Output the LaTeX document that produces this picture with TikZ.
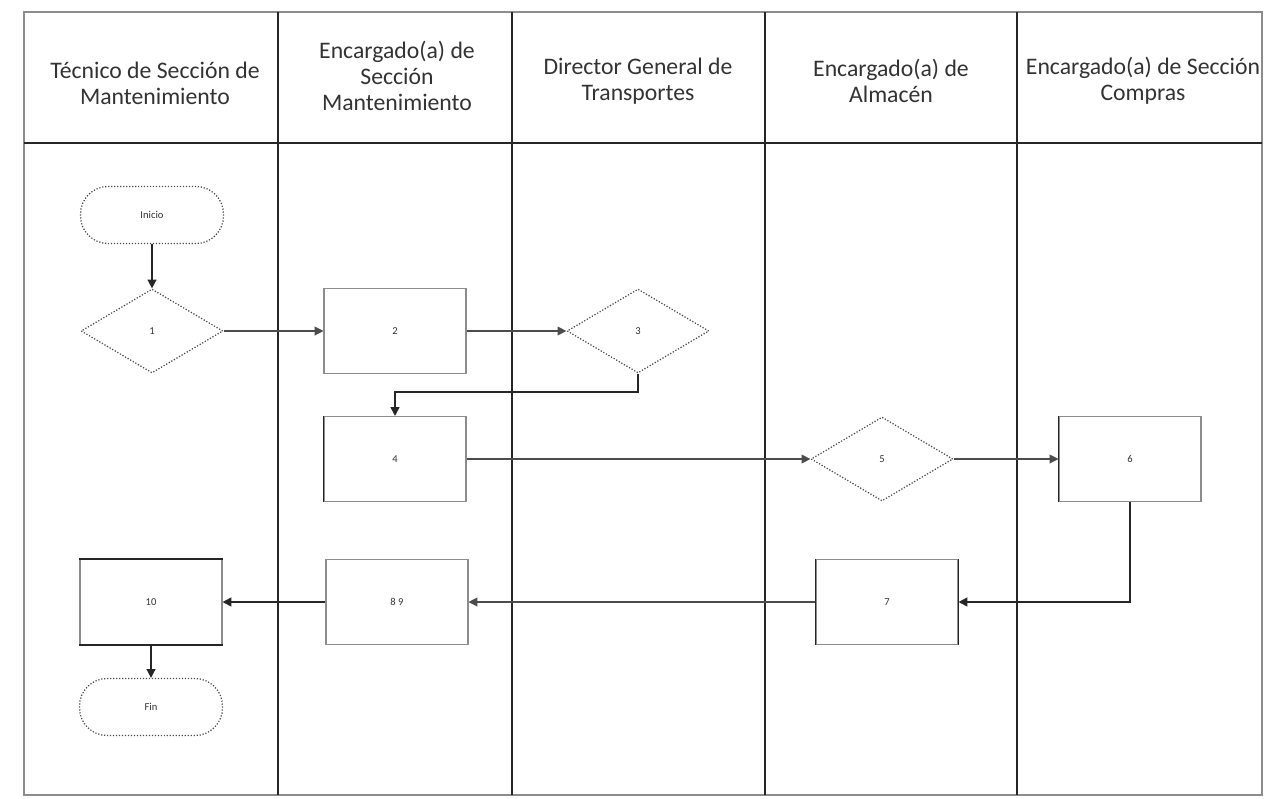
\documentclass[tikz,border=0pt]{standalone}
\usepackage{fontspec}
\setmainfont{Carlito}
\usetikzlibrary{shapes.geometric,arrows.meta}
\begin{document}
\begin{tikzpicture}[x=0.02cm,y=-0.02cm,
  lane/.style={line width=1.1pt,draw=black!85},
  frame/.style={line width=0.6pt,draw=black!45},
  head/.style={align=center,font=\fontsize{13.5}{14.7}\selectfont,text=black!80},
  lab/.style={font=\fontsize{6}{7}\selectfont,text=black!80},
  procbox/.style={rectangle,draw=black!45,line width=0.6pt,minimum width=2.84cm,minimum height=1.7cm,inner sep=0pt,lab},
  decis/.style={diamond,draw=black!70,densely dotted,line width=0.7pt,minimum width=2.84cm,minimum height=1.68cm,inner sep=0pt,lab},
  term/.style={rectangle,rounded corners=0.55cm,draw=black!70,densely dotted,line width=0.7pt,minimum width=2.86cm,minimum height=1.14cm,inner sep=0pt,lab},
  flow/.style={line width=0.9pt,draw=black!85,-{Triangle[length=5pt,width=5pt]}},
  thinflow/.style={line width=0.6pt,draw=black!70,-{Triangle[length=5pt,width=5pt]}},
  edge/.style={line width=1.1pt,draw=black!85}]
\useasboundingbox (0,0) rectangle (1267,798);
\fill[white] (0,0) rectangle (1267,798);
% table
\draw[frame] (24,12) rectangle (1262,795);
\draw[line width=1.3pt,draw=black!85] (24,143) -- (1262,143);
\foreach \x in {278,512,765,1017} \draw[lane] (\x,12) -- (\x,795);
% headers
\node[head] (h1) at (155,83) {Técnico de Sección de\\Mantenimiento};
\node[head] (h2) at (397,76) {Encargado(a) de\\Sección\\Mantenimiento};
\node[head] (h3) at (638,81) {Director General de\\Transportes};
\node[head] (h4) at (891,81) {Encargado(a) de\\Almacén};
\node[head] (h5) at (1143,81) {Encargado(a) de Sección\\Compras};
% nodes
\node[term] (ini) at (152,215) {Inicio};
\node[decis] (d1) at (152,331) {1};
\node[procbox] (b2) at (395,331) {2};
\node[decis] (d3) at (638,331) {3};
\node[procbox] (b4) at (395,459) {4};
\node[decis] (d5) at (882,459) {5};
\node[procbox] (b6) at (1130,459) {6};
\node[procbox] (b7) at (887,602) {7};
\node[procbox] (b89) at (397,602) {8 9};
\node[procbox] (b10) at (151,602) {10};
\node[term] (fin) at (151,707) {Fin};
% darker edges of boxes
\draw[edge] (b4.north west) -- (b4.south west);
\draw[edge] (b6.north west) -- (b6.south west);
\draw[edge] (b7.north west) -- (b7.south west);
\draw[edge] (b7.north east) -- (b7.south east);
\draw[line width=0.9pt,draw=black!85] (b10.north west) -- (b10.north east);
\draw[line width=0.9pt,draw=black!85] (b10.south west) -- (b10.south east);
% connectors
\draw[flow] (ini) -- (d1);
\draw[thinflow] (d1) -- (b2);
\draw[thinflow] (b2) -- (d3);
\draw[flow] (d3.south) |- (395,392) -- (b4.north);
\draw[thinflow] (b4) -- (d5);
\draw[thinflow] (d5) -- (b6);
\draw[flow] (b6.south) |- (b7.east);
\draw[thinflow] (b7) -- (b89);
\draw[flow] (b89) -- (b10);
\draw[flow] (b10) -- (fin);
\end{tikzpicture}
\end{document}
